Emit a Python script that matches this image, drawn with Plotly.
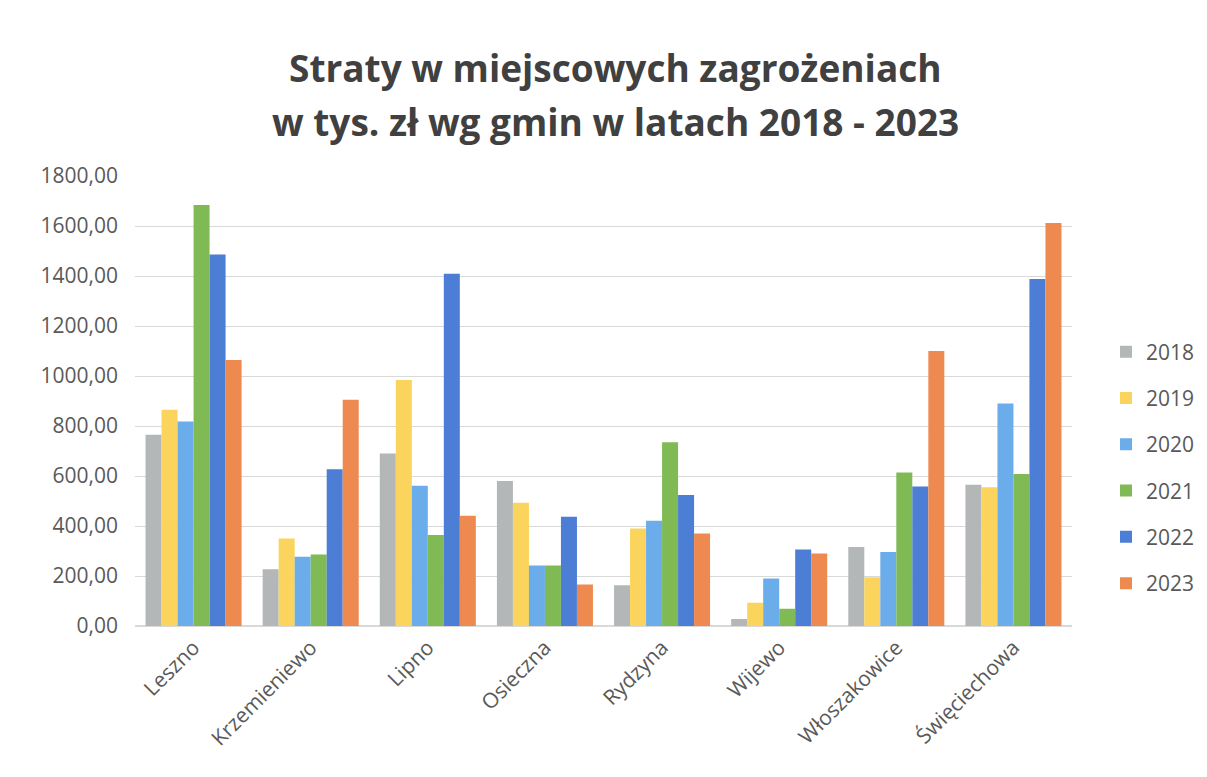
import plotly.graph_objects as go

gminy = ["Leszno", "Krzemieniewo", "Lipno", "Osieczna", "Rydzyna", "Wijewo", "Włoszakowice", "Święciechowa"]
lata = ["2018", "2019", "2020", "2021", "2022", "2023"]

v2018 = [765, 227, 690, 580, 163, 28, 316, 565]
v2019 = [865, 350, 984, 493, 390, 93, 195, 555]
v2020 = [818, 277, 561, 242, 421, 190, 296, 890]
v2021 = [1684, 286, 364, 242, 735, 69, 614, 608]
v2022 = [1486, 627, 1409, 437, 524, 306, 558, 1388]
v2023 = [1064, 905, 441, 166, 370, 290, 1100, 1612]

serie = [v2018, v2019, v2020, v2021, v2022, v2023]
kolory = ["#B3B7B8", "#FAD45C", "#6BADEA", "#80BA55", "#4C7ED5", "#EE8A4F"]

fig = go.Figure()
for rok, vals, kol in zip(lata, serie, kolory):
    fig.add_trace(go.Bar(name=rok, x=gminy, y=vals, marker_color=kol,
                         marker_line_width=0, legendgroup=rok))

font_family = "'Open Sans', Lato, sans-serif"

W, H = 1207, 777
ML, MR, MT, MB = 127, 143, 168, 159
plot_w = W - ML - MR
plot_h = H - MT - MB

def px_to_paper_x(px):
    return (px - ML) / plot_w

def px_to_paper_y(py):
    return (H - MB - py) / plot_h

title_lines = ["<b>Straty w miejscowych zagrożeniach</b>",
               "<b>w tys. zł wg gmin w latach 2018 - 2023</b>"]
title_y = [59, 113]

fig.update_layout(
    width=W, height=H,
    paper_bgcolor="white", plot_bgcolor="white",
    margin=dict(l=ML, r=MR, t=MT, b=MB),
    barmode="group", bargap=0.18, bargroupgap=0,
    separators=", ",
    font=dict(family=font_family, color="#595959", size=21),
    showlegend=True,
    legend=dict(x=px_to_paper_x(1098), y=px_to_paper_y(459.5),
                xanchor="left", yanchor="middle",
                font=dict(size=21, color="#595959"),
                traceorder="grouped", tracegroupgap=16,
                itemwidth=30),
    annotations=[
        dict(text=t, x=px_to_paper_x(607), y=px_to_paper_y(ty),
             xref="paper", yref="paper", showarrow=False,
             xanchor="center", yanchor="middle",
             font=dict(size=37, color="#404040", family=font_family))
        for t, ty in zip(title_lines, title_y)
    ],
)

fig.update_yaxes(range=[0, 1800], dtick=200, tickformat=".2f",
                 showgrid=True, gridcolor="#D9D9D9", gridwidth=1,
                 zeroline=True, zerolinecolor="#D9D9D9", ticks="", ticklen=0,
                 ticklabelstandoff=16,
                 tickfont=dict(size=21, color="#595959"))
fig.update_xaxes(tickangle=-45, showline=True, linecolor="#D9D9D9",
                 tickfont=dict(size=21, color="#595959"))

fig.write_html("out.html")
